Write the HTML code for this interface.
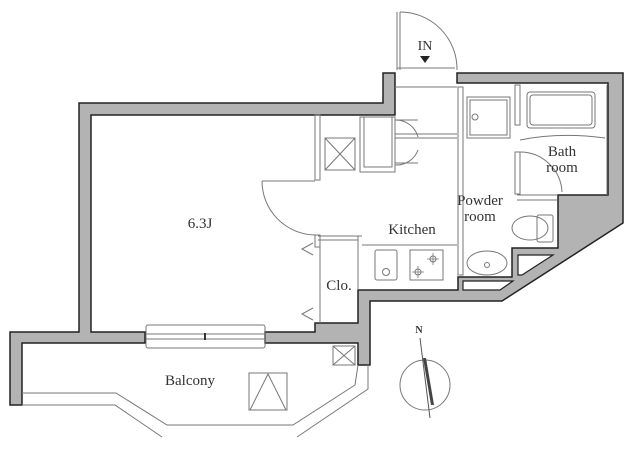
<!DOCTYPE html>
<html><head><meta charset="utf-8"><style>
html,body{margin:0;padding:0;background:#fff;}
svg{display:block;}
text{font-family:"Liberation Serif",serif;fill:#333;}
</style></head><body>
<svg width="640" height="450" viewBox="0 0 640 450" xmlns="http://www.w3.org/2000/svg">
<g fill="#b3b3b3" stroke="#222" stroke-width="1.5" stroke-linejoin="miter">
<polygon points="79,103 383,103 383,73 395,73 395,115 91,115 91,332 145,332 145,343 22,343 22,405 10,405 10,332 79,332"/>
<polygon points="265,332 315,332 315,323 358,323 358,290 458,290 458,277 512,277 512,248 558,248 558,195 608,195 608,83 457,83 457,73 623,73 623,223 502,301 370,301 370,365 358,365 358,343 265,343"/>
</g>
<g fill="#fff" stroke="#222" stroke-width="1.2">
<polygon points="518,255 553,255 522,275 518,275"/>
<polygon points="463,281 513,281 500,290 463,290"/>
</g>
<g fill="none" stroke="#777" stroke-width="1">
<line x1="397" y1="68" x2="455" y2="68"/>
<line x1="395" y1="87" x2="457" y2="87"/>
<line x1="400" y1="12" x2="400" y2="70"/>
<line x1="397" y1="12" x2="397" y2="70"/>
<path d="M400,12 A57,57 0 0 1 457,70"/>
<rect x="458" y="87" width="5" height="188"/>
<rect x="315" y="115" width="5" height="65"/>
<rect x="315" y="235" width="5" height="12"/>
<line x1="262" y1="181" x2="315" y2="181"/>
<path d="M262,181 A54,54 0 0 0 315,235"/>
<line x1="318" y1="240" x2="358" y2="240"/>
<line x1="318" y1="236" x2="362" y2="236"/>
<line x1="320" y1="240" x2="320" y2="323"/>
<line x1="358" y1="236" x2="358" y2="290"/>
<polyline points="313,243 302,249 313,255"/>
<polyline points="313,308 302,314 313,320"/>
<rect x="325" y="138" width="30" height="32"/>
<line x1="325" y1="138" x2="355" y2="170"/><line x1="355" y1="138" x2="325" y2="170"/>
<rect x="360" y="117" width="35" height="55"/>
<rect x="364" y="117" width="28" height="50"/>
<path d="M395,120 A23,23 0 0 1 418,137"/><path d="M395,165 A23,23 0 0 0 418,150"/>
<line x1="395" y1="134" x2="457" y2="134"/><line x1="395" y1="138" x2="457" y2="138"/>
<line x1="395" y1="120" x2="418" y2="120"/><line x1="395" y1="163" x2="418" y2="163"/>
<line x1="362" y1="245" x2="457" y2="245"/>
<rect x="375" y="250" width="22" height="30" rx="2"/>
<circle cx="386" cy="272" r="3.5"/>
<rect x="410" y="250" width="33" height="30"/>
<circle cx="433" cy="259" r="3"/><circle cx="418" cy="272" r="3"/>
<path d="M433,253v12M427,259h12M418,266v12M412,272h12" stroke-width="0.8"/>
<rect x="467" y="97" width="43" height="41"/>
<rect x="470" y="100" width="37" height="35"/>
<circle cx="475" cy="117" r="3"/>
<rect x="515" y="85" width="5" height="40"/>
<rect x="515" y="152" width="5" height="42"/>
<line x1="517" y1="195" x2="557" y2="195"/>
<line x1="517" y1="200" x2="557" y2="200"/>
<rect x="527" y="92" width="68" height="36" rx="3"/>
<rect x="530" y="95" width="62" height="30" rx="3"/>
<path d="M520,140 Q560,132 605,138"/>
<line x1="607" y1="85" x2="607" y2="195"/>
<path d="M520,152 A42,42 0 0 1 562,192"/>
<ellipse cx="530" cy="228" rx="18" ry="12"/>
<rect x="537" y="215" width="16" height="27" rx="2"/>
<ellipse cx="487" cy="263" rx="20" ry="12"/>
<circle cx="487" cy="265" r="2.5"/>
<rect x="146" y="325" width="119" height="23" rx="2"/>
<line x1="146" y1="334" x2="265" y2="334"/><line x1="146" y1="339" x2="265" y2="339"/>
<line x1="205" y1="333" x2="205" y2="340" stroke="#333" stroke-width="2"/>
<polyline points="22,393 116,393 167,425 293,425 355,385 358,365"/>
<polyline points="22,405 115,405 162,437"/>
<polyline points="297,437 368,389 368,365"/>
<rect x="333" y="346" width="22" height="19"/>
<line x1="333" y1="346" x2="355" y2="365"/><line x1="355" y1="346" x2="333" y2="365"/>
<rect x="249" y="373" width="38" height="37"/>
<polyline points="250,410 268,374 286,410"/>
<circle cx="425" cy="385" r="25"/>
<line x1="420" y1="338" x2="430" y2="418" stroke="#555"/>
</g>
<polygon points="423,358 426,358 434,405 431,405" fill="#444"/>
<polygon points="420,56 430,56 425,63" fill="#222"/>
<text x="425" y="50" font-size="14" text-anchor="middle">IN</text>
<text x="419" y="333" font-size="10" font-weight="bold" text-anchor="middle">N</text>
<text x="200" y="228" font-size="15" text-anchor="middle">6.3J</text>
<text x="412" y="234" font-size="15" text-anchor="middle">Kitchen</text>
<text x="339" y="290" font-size="15" text-anchor="middle">Clo.</text>
<text x="480" y="205" font-size="15" text-anchor="middle">Powder</text>
<text x="480" y="221" font-size="15" text-anchor="middle">room</text>
<text x="562" y="156" font-size="15" text-anchor="middle">Bath</text>
<text x="562" y="172" font-size="15" text-anchor="middle">room</text>
<text x="190" y="385" font-size="15" text-anchor="middle">Balcony</text>
</svg>
</body></html>
